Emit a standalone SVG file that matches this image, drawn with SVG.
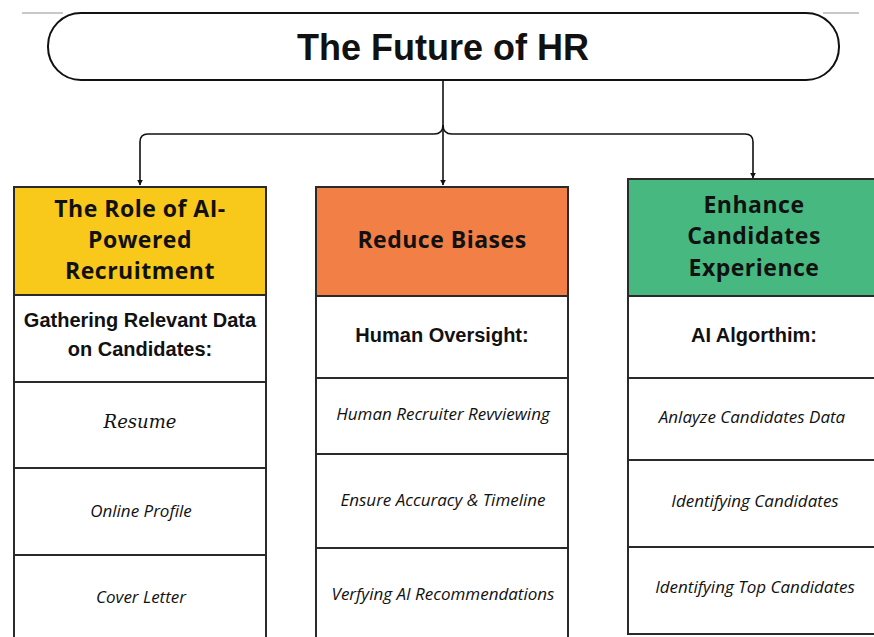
<svg xmlns="http://www.w3.org/2000/svg" width="874" height="637" viewBox="0 0 874 637">
<defs>
<marker id="arr" viewBox="0 0 10 10" refX="9" refY="5" markerWidth="6" markerHeight="6" orient="auto" markerUnits="userSpaceOnUse">
<path d="M0,0 L10,5 L0,10 z" fill="#111"/>
</marker>
<style>
.hd{font-family:"Open Sans","Liberation Sans",sans-serif;font-weight:700;font-size:23px;letter-spacing:0.5px;fill:#111;text-anchor:middle}
.sub{font-family:"Liberation Sans",Arial,sans-serif;font-weight:700;font-size:20px;fill:#111;text-anchor:middle}
.it{font-family:"Open Sans","Noto Sans",sans-serif;font-style:italic;font-size:17px;fill:#111;text-anchor:middle}
.sr{font-family:"DejaVu Serif","Liberation Serif",serif;font-style:italic;font-size:18px;fill:#111;text-anchor:middle}
.cell{fill:#fff;stroke:#2a2a2a;stroke-width:2}
.con{fill:none;stroke:#111;stroke-width:1.6}
</style>
</defs>
<rect width="874" height="637" fill="#fff"/>
<line x1="22" y1="13" x2="63" y2="13" stroke="#c8c8c8" stroke-width="2"/>
<line x1="823" y1="13" x2="859" y2="13" stroke="#c8c8c8" stroke-width="2"/>

<g id="title">
<rect x="48" y="13" width="791" height="67" rx="33" ry="33" fill="#fff" stroke="#111" stroke-width="2"/>
<text x="443" y="60" font-family="Liberation Sans, Arial, sans-serif" font-weight="700" font-size="36" text-anchor="middle" fill="#111">The Future of HR</text>
</g>

<g id="connectors">
<path class="con" d="M443,80 V185" marker-end="url(#arr)"/>
<path class="con" d="M443,125 Q443,134 434,134 H148 Q140,134 140,142 V185" marker-end="url(#arr)"/>
<path class="con" d="M443,125 Q443,134 452,134 H745 Q753,134 753,142 V178" marker-end="url(#arr)"/>
</g>

<g id="col1">
<rect x="14" y="187" width="252" height="108" fill="#F8C81A" stroke="#2a2a2a" stroke-width="2"/>
<text class="hd" x="140" y="217">The Role of AI-</text>
<text class="hd" x="140" y="248">Powered</text>
<text class="hd" x="140" y="279">Recruitment</text>
<rect class="cell" x="14" y="295" width="252" height="87"/>
<text class="sub" x="140" y="327">Gathering Relevant Data</text>
<text class="sub" x="140" y="356">on Candidates:</text>
<rect class="cell" x="14" y="382" width="252" height="86"/>
<text class="sr" x="140" y="428">Resume</text>
<rect class="cell" x="14" y="468" width="252" height="87"/>
<text class="it" x="141" y="517">Online Profile</text>
<rect class="cell" x="14" y="555" width="252" height="90"/>
<text class="it" x="141" y="603">Cover Letter</text>
</g>

<g id="col2">
<rect x="316" y="187" width="252" height="109" fill="#F27F45" stroke="#2a2a2a" stroke-width="2"/>
<text class="hd" x="442" y="248">Reduce Biases</text>
<rect class="cell" x="316" y="296" width="252" height="82"/>
<text class="sub" x="442" y="342">Human Oversight:</text>
<rect class="cell" x="316" y="378" width="252" height="76"/>
<text class="it" x="443" y="420">Human Recruiter Revviewing</text>
<rect class="cell" x="316" y="454" width="252" height="94"/>
<text class="it" x="443" y="506">Ensure Accuracy &amp; Timeline</text>
<rect class="cell" x="316" y="548" width="252" height="97"/>
<text class="it" x="443" y="600">Verfying AI Recommendations</text>
</g>

<g id="col3">
<rect x="628" y="179" width="252" height="117" fill="#47B87F" stroke="#2a2a2a" stroke-width="2"/>
<text class="hd" x="754" y="213">Enhance</text>
<text class="hd" x="754" y="244">Candidates</text>
<text class="hd" x="754" y="276">Experience</text>
<rect class="cell" x="628" y="296" width="252" height="82"/>
<text class="sub" x="754" y="342">AI Algorthim:</text>
<rect class="cell" x="628" y="378" width="252" height="82"/>
<text class="it" x="752" y="423">Anlayze Candidates Data</text>
<rect class="cell" x="628" y="460" width="252" height="87"/>
<text class="it" x="755" y="507">Identifying Candidates</text>
<rect class="cell" x="628" y="547" width="252" height="87"/>
<text class="it" x="755" y="593">Identifying Top Candidates</text>
</g>
</svg>
